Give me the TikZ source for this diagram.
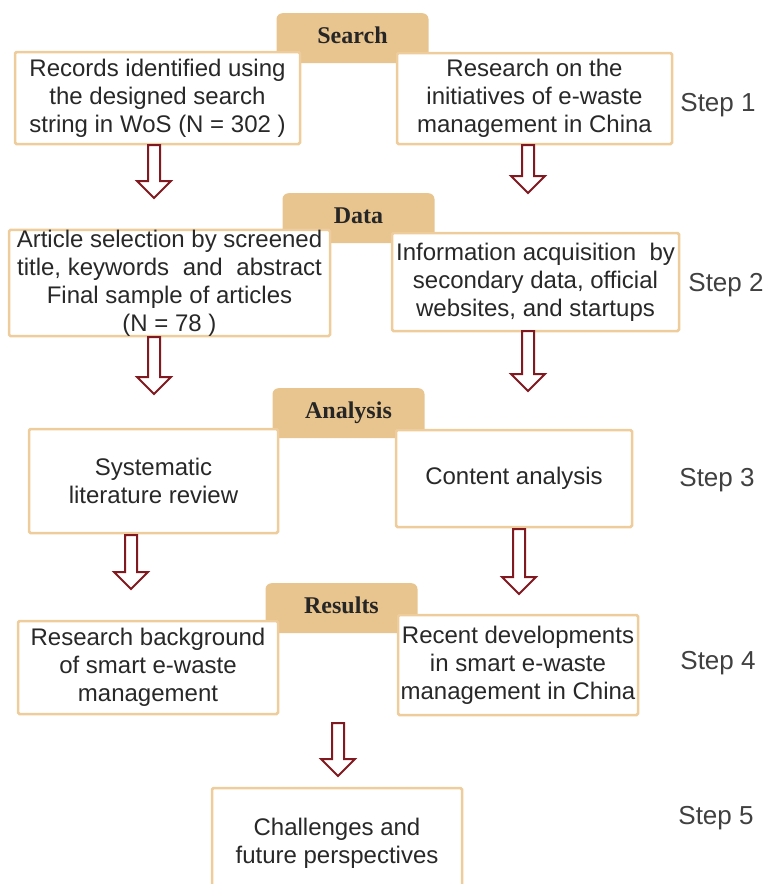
\documentclass[tikz,border=0pt]{standalone}
\usepackage{fontspec}
\setmainfont{Liberation Sans}
\newfontfamily\tabfont{Liberation Serif}
\usetikzlibrary{shapes.arrows}
\definecolor{tabtan}{RGB}{232,196,142}
\definecolor{boxline}{RGB}{238,204,156}
\definecolor{arrowred}{RGB}{128,26,32}
\definecolor{txt}{RGB}{40,40,40}

\begin{document}
\begin{tikzpicture}[x=1pt,y=-1pt]
\useasboundingbox (0,0) rectangle (769,884);

\tikzset{tab/.style = {rounded corners=6pt, fill=tabtan, minimum width=152pt, inner sep=0pt, anchor=north, text height=30pt, text depth=20pt, text=black!85, font=\tabfont\bfseries\fontsize{24}{28}\selectfont}}
\tikzset{box/.style = {draw=boxline, line width=2.5pt, fill=white, inner sep=0pt, rounded corners=1.5pt, align=center, text=txt, font=\fontsize{24}{28}\selectfont}}
\tikzset{down/.style = {single arrow, draw=arrowred, fill=white, line width=2pt, rotate=-90, single arrow head extend=11pt, inner xsep=0pt, inner ysep=5pt, minimum width=0pt, anchor=tail}}
\tikzset{steplabel/.style = {text=black!75, font=\fontsize{26}{30}\selectfont}}

\foreach \pos/\name/\txt in {{(352.5,13)/search/Search}, {(358.5,193)/data/Data}, {(348.5,388)/analysis/Analysis}, {(341.5,583)/results/Results}}
\node[tab] (\name) at \pos {\txt};

% step 1
\node[box, minimum width=285pt, minimum height=92pt] (rec) at (157.5,98) {Records identified using\\the designed search\\string in WoS (N = 302 )};
\node[box, minimum width=275pt, minimum height=91pt] (init) at (534.5,98.5) {Research on the\\initiatives of e-waste\\management in China};
% step 2
\node[box, minimum width=321pt, minimum height=105pt] (select) at (169.5,283) {Article selection by screened\\title, keywords\hspace{7pt} and\hspace{7pt} abstract\\Final sample of articles\\(N = 78 )};
\node[box, minimum width=287pt, minimum height=98pt] (info) at (535.5,282) {Information acquisition\ \ by\\secondary data, official\\websites, and startups};
% step 3
\node[box, minimum width=249pt, minimum height=104pt] (slr) at (153.5,481) {Systematic\\literature review};
\node[box, minimum width=236pt, minimum height=97pt] (content) at (514,478.5) {Content analysis};
% step 4
\node[box, minimum width=260pt, minimum height=93pt] (backgr) at (148,667.5) {Research background\\of smart e-waste\\management};
\node[box, minimum width=240pt, minimum height=100pt] (recent) at (518,665) {Recent developments\\in smart e-waste\\management in China};
% step 5
\node[box, minimum width=250pt, minimum height=110pt] (future) at (337,843) {Challenges and\\future perspectives};

\foreach \pos/\len/\name in {(154,144)/53/arr1, (528,144)/48/arr2, (154,336)/57/arr3, (528,330)/60/arr4, (131,534)/54/arr5, (519,528)/65/arr6, (338,722)/53/arr7}
\node[down, minimum height=\len pt] (\name) at \pos {};

\foreach \pos/\n in {(718,105)/1, (726,285)/2, (717,480)/3, (718,663)/4, (716,818)/5}
\node[steplabel] (step\n) at \pos {Step \n};
\end{tikzpicture}
\end{document}
